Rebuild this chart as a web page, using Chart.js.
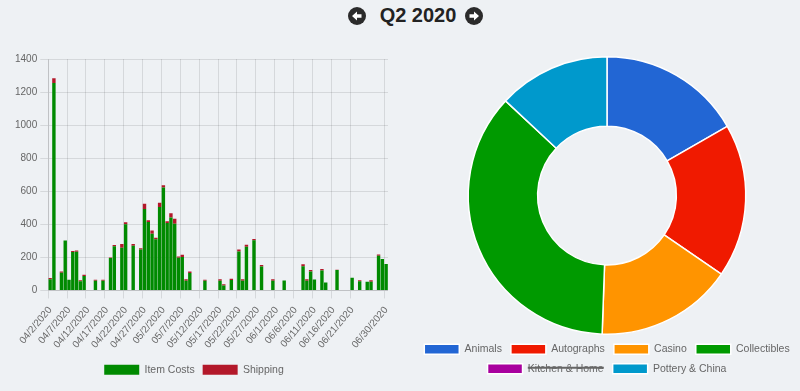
<!DOCTYPE html>
<html>
<head>
<meta charset="utf-8">
<script src="https://cdn.jsdelivr.net/npm/chart.js@4.4.0/dist/chart.umd.min.js"></script>
<style>
  html, body { margin: 0; padding: 0; width: 800px; height: 391px; overflow: hidden; background: #eef1f4; font-family: 'Liberation Sans', Arial, sans-serif; }
  .ttl { position: absolute; left: 318px; top: 4px; width: 200px; text-align: center; font-size: 20px; font-weight: bold; color: #222; }
  .nav { position: absolute; top: 7px; width: 18px; height: 18px; }
  #left { position: absolute; left: 0; top: 40px; width: 388px; height: 351px; }
  #right { position: absolute; left: 405px; top: 40px; width: 400px; height: 351px; }
</style>
</head>
<body>
<svg class="nav" style="left:348px" viewBox="0 0 18 18"><circle cx="9" cy="9" r="9" fill="#2b2b2b"/><path d="M4 9 L9 4.5 L9 7.3 L13.5 7.3 L13.5 10.7 L9 10.7 L9 13.5 Z" fill="#fff"/></svg>
<div class="ttl">Q2 2020</div>
<svg class="nav" style="left:465px" viewBox="0 0 18 18"><circle cx="9" cy="9" r="9" fill="#2b2b2b"/><path d="M14 9 L9 4.5 L9 7.3 L4.5 7.3 L4.5 10.7 L9 10.7 L9 13.5 Z" fill="#fff"/></svg>
<div id="left"><canvas id="barChart"></canvas></div>
<div id="right"><canvas id="pieChart"></canvas></div>
<script>
// days of Q2 2020, one category per day
const months = [['04', 2, 30], ['05', 1, 31], ['06', 1, 30]];
const dayLabels = [];
months.forEach(([m, from, to]) => {
  for (let d = from; d <= to; d++) dayLabels.push(m + '/' + d + '/2020');
});

// daily spend
const itemCosts = [
  68, 1255, 0, 107, 302, 65, 232, 234, 55, 87,
  0, 0, 59, 0, 59, 0, 196, 267, 0, 259,
  400, 0, 271, 0, 248, 493, 414, 343, 309, 505,
  622, 408, 442, 404, 198, 202, 59, 105, 0, 0,
  0, 59, 0, 0, 0, 59, 30, 0, 63, 0,
  236, 59, 265, 0, 303, 0, 145, 0, 0, 59,
  0, 0, 60, 0, 0, 0, 0, 147, 59, 115,
  66, 0, 121, 48, 0, 0, 123, 0, 0, 0,
  77, 0, 55, 0, 52, 53, 0, 210, 190, 160
];
const shipping = [
  7, 28, 0, 8, 0, 0, 6, 8, 6, 8,
  0, 0, 6, 0, 6, 0, 4, 8, 0, 22,
  12, 0, 10, 0, 7, 32, 10, 19, 10, 26,
  14, 10, 25, 30, 8, 14, 8, 10, 0, 0,
  0, 6, 0, 0, 0, 8, 8, 0, 8, 0,
  12, 8, 12, 0, 8, 0, 9, 0, 0, 8,
  0, 0, 0, 0, 0, 0, 0, 11, 8, 8,
  0, 0, 8, 0, 0, 0, 2, 0, 0, 0,
  0, 0, 6, 0, 0, 8, 0, 8, 0, 0
];

// totals by category
const catNames = ['Animals', 'Autographs', 'Casino', 'Collectibles', 'Kitchen & Home', 'Pottery & China'];
const catTotals = [1670, 1790, 1598, 3640, 240, 1306];
const catColors = ['#2266d4', '#f01a00', '#ff9400', '#009a00', '#a8009e', '#0099cc'];

Chart.defaults.font.family = "'Liberation Sans', Arial, sans-serif";
Chart.defaults.color = '#666';

const gridCol = 'rgba(0,0,0,0.1)';
function showTick(i) {
  return (i % 5 === 0 && i <= 80) || i === 89;
}

new Chart(document.getElementById('barChart'), {
  type: 'bar',
  data: {
    labels: dayLabels,
    datasets: [
      { label: 'Item Costs', data: itemCosts, backgroundColor: '#008a00', borderWidth: 0 },
      { label: 'Shipping', data: shipping, backgroundColor: '#b3182a', borderWidth: 0 }
    ]
  },
  options: {
    responsive: true,
    maintainAspectRatio: false,
    animation: false,
    barPercentage: 0.95,
    categoryPercentage: 0.95,
    layout: { padding: { left: 0, top: 19, right: 0, bottom: 6 } },
    plugins: {
      legend: {
        position: 'bottom',
        labels: { boxWidth: 35, boxHeight: 10, padding: 8, font: { size: 10.5 } }
      },
      tooltip: { enabled: false }
    },
    scales: {
      x: {
        stacked: true,
        afterFit: s => { s.paddingRight = 0; },
        grid: { color: ctx => (showTick(ctx.index) || ctx.index >= 89) ? gridCol : 'transparent' },
        ticks: {
          autoSkip: false,
          minRotation: 50,
          maxRotation: 50,
          padding: 6,
          font: { size: 10 },
          callback: function (v, i) { return showTick(i) ? this.getLabelForValue(v) : ''; }
        }
      },
      y: {
        stacked: true,
        min: 0,
        max: 1400,
        afterFit: s => { s.width += 12; },
        ticks: { stepSize: 200, font: { size: 10 }, callback: v => String(v) },
        grid: { color: gridCol }
      }
    }
  }
});

const pie = new Chart(document.getElementById('pieChart'), {
  type: 'doughnut',
  data: {
    labels: catNames,
    datasets: [{ data: catTotals, backgroundColor: catColors, borderColor: '#fff', borderWidth: 1.5 }]
  },
  options: {
    responsive: true,
    maintainAspectRatio: false,
    animation: false,
    cutout: '50%',
    layout: { padding: { top: 16, bottom: 7, left: 4 } },
    plugins: {
      legend: {
        position: 'bottom',
        labels: { boxWidth: 35, boxHeight: 10, padding: 9, font: { size: 10.5 } }
      },
      tooltip: { enabled: false }
    }
  }
});
// Kitchen & Home is switched off in the legend
pie.toggleDataVisibility(4);
pie.update();
</script>
</body>
</html>
